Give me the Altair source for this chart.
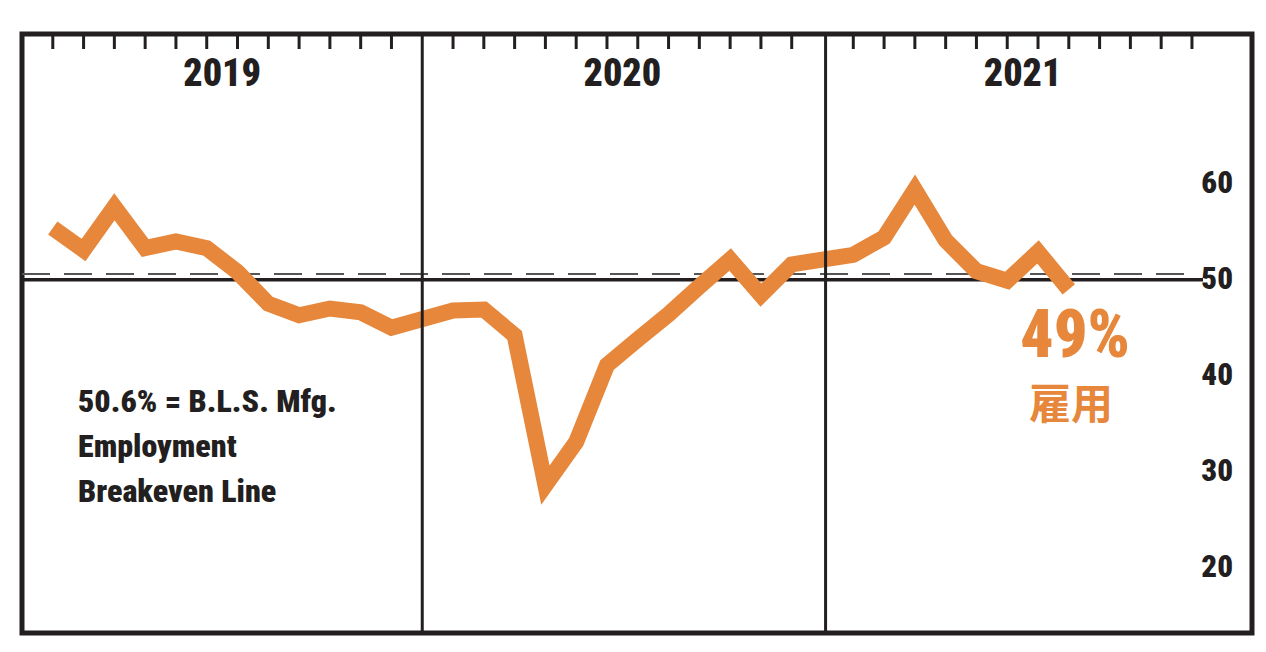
import altair as alt
import pandas as pd

# ---- data ----
years = [2019, 2020, 2021]
pmi_2019 = [55.4, 53.1, 57.6, 53.3, 54.0, 53.3, 50.8, 47.5, 46.3, 47.0, 46.6, 45.0]
pmi_2020 = [46.8, 46.9, 44.2, 28.6, 33.1, 41.1, 43.8, 46.4, 49.3, 52.1, 48.4, 51.6]
pmi_2021 = [52.6, 54.4, 59.4, 54.1, 50.9, 49.9, 52.9, 49.0]
y_ticks = [20, 30, 40, 50, 60]
divider_slots = [13.0, 26.1]  # year boundaries, in month-slot units
breakeven = 50.6
midline = 50
note_lines = ["50.6% = B.L.S. Mfg.", "Employment", "Breakeven Line"]
latest_label = "49%"
latest_name = "雇用"

SLOTS_PER_YEAR = 13  # 12 month ticks + gap at each year divider

series = [pmi_2019, pmi_2020, pmi_2021]
rows = []
for yi, vals in enumerate(series):
    for m, v in enumerate(vals, start=1):
        rows.append({"slot": yi * SLOTS_PER_YEAR + m, "value": v})
line_df = pd.DataFrame(rows)

tick_df = pd.DataFrame(
    [{"slot": yi * SLOTS_PER_YEAR + m} for yi in range(len(years)) for m in range(1, 13)]
)
divider_df = pd.DataFrame({"slot": divider_slots})
year_df = pd.DataFrame(
    [{"slot": yi * SLOTS_PER_YEAR + 6.5, "year": str(y)} for yi, y in enumerate(years)]
)
ytick_df = pd.DataFrame({"v": y_ticks})

INK = "#231f20"
ORANGE = "#E6873B"
FONT = ("'Liberation Sans Narrow', 'Noto Sans ExtraCondensed', 'Noto Sans Condensed', "
        "'Roboto Condensed', 'DejaVu Sans Condensed', 'Liberation Sans', sans-serif")

xs = alt.Scale(domain=[0, 39.95], nice=False, zero=False)
ys = alt.Scale(domain=[13.2, 75.6], nice=False, zero=False)

ticks = alt.Chart(tick_df).mark_rule(color=INK, strokeWidth=3).encode(
    x=alt.X("slot:Q", scale=xs, axis=None), y=alt.value(0), y2=alt.value(15)
)

dashed = alt.Chart(pd.DataFrame({"v": [breakeven]})).mark_rule(
    color="#555555", strokeWidth=2, strokeDash=[28, 14]
).encode(y=alt.Y("v:Q", scale=ys, axis=None), x=alt.value(0), x2=alt.value(1172))

solid = alt.Chart(pd.DataFrame({"v": [midline]})).mark_rule(
    color=INK, strokeWidth=3.5
).encode(y=alt.Y("v:Q", scale=ys, axis=None), x=alt.value(0), x2=alt.value(1181))

line = alt.Chart(line_df).mark_line(
    color=ORANGE, strokeWidth=16, strokeJoin="miter", strokeCap="butt", strokeMiterLimit=10
).encode(
    x=alt.X("slot:Q", scale=xs, axis=None),
    y=alt.Y("value:Q", scale=ys, axis=None),
)

dividers = alt.Chart(divider_df).mark_rule(color=INK, strokeWidth=3).encode(
    x=alt.X("slot:Q", scale=xs, axis=None)
)

year_text = alt.Chart(year_df).mark_text(
    font=FONT, fontSize=38, fontWeight=900, color=INK, baseline="middle", align="center"
).encode(x=alt.X("slot:Q", scale=xs, axis=None), y=alt.value(41), text="year:N")

ylabels = alt.Chart(ytick_df).mark_text(
    font=FONT, fontSize=31, fontWeight=900, color=INK, baseline="middle", align="right"
).encode(x=alt.value(1211), y=alt.Y("v:Q", scale=ys, axis=None), text="v:Q")

note = alt.Chart(pd.DataFrame({"a": [0]})).mark_text(
    font=FONT, fontSize=32, fontWeight=900, color=INK, align="left",
    baseline="alphabetic", lineHeight=45, text=note_lines
).encode(x=alt.value(56), y=alt.value(378))

big = alt.Chart(pd.DataFrame({"a": [0]})).mark_text(
    font=FONT, fontSize=66, fontWeight=900, color=ORANGE, align="center",
    baseline="middle", text=latest_label
).encode(x=alt.value(1053), y=alt.value(303))

name = alt.Chart(pd.DataFrame({"a": [0]})).mark_text(
    font="Noto Sans CJK JP", fontSize=42, fontWeight="bold", color=ORANGE, align="center",
    baseline="middle", text=latest_name
).encode(x=alt.value(1049), y=alt.value(372))

chart = alt.layer(
    ticks, dashed, solid, line, dividers, year_text, ylabels, note, big, name
).properties(
    width=1230, height=599,
    background="white",
    autosize=alt.AutoSizeParams(type="none"),
    padding={"left": 14, "top": 26, "right": 6, "bottom": 6},
).configure_view(stroke=INK, strokeWidth=5)

chart.save("out.html", embed_options={"renderer": "svg", "actions": False})
